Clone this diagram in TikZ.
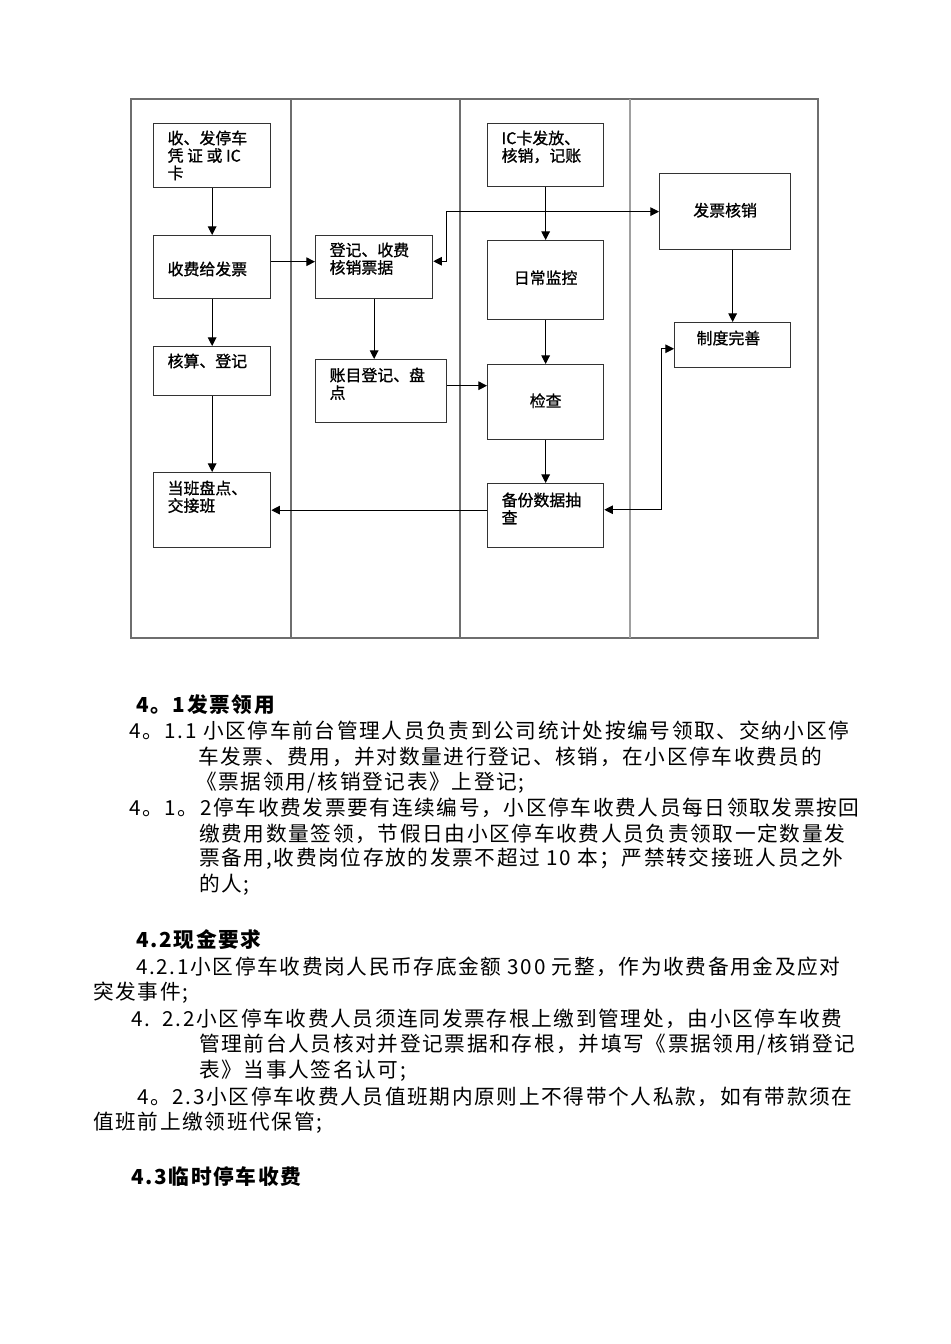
\documentclass[tikz,border=0pt]{standalone}
\usepackage{fontspec}
\usepackage{tikz}
\usetikzlibrary{arrows.meta, positioning, calc}
\setmainfont{Noto Sans CJK SC}
\newfontfamily\bodyfont[LetterSpace=8]{Noto Sans CJK SC}
\newfontfamily\boxfont[FakeBold=1]{Noto Sans CJK SC}
\definecolor{LaneGray}{RGB}{110, 110, 110}
\definecolor{LaneLight}{RGB}{160, 160, 160}
\newlength{\pxu}
\setlength{\pxu}{0.0221cm}
% box text: width, height, top gap, text
\newcommand{\bt}[4]{\parbox[c][#2\pxu][t]{#1\pxu}{\leftskip=14\pxu\relax\vspace*{#3\pxu}#4\par}}
\newcommand{\bc}[3]{\parbox[c][#2\pxu][c]{#1\pxu}{\centering #3\par}}

\begin{document}
\begin{tikzpicture}[
    x=0.0221cm, y=-0.0221cm,
    box/.style={rectangle, draw=black!80, line width=0.8pt, inner sep=0pt, anchor=north west, font=\boxfont\fontsize{10}{11}\selectfont},
    arrow/.style={-{Triangle[length=1.9mm, width=1.9mm]}, line width=0.6pt, draw=black},
    both/.style={{Triangle[length=1.9mm, width=1.9mm]}-{Triangle[length=1.9mm, width=1.9mm]}, line width=0.6pt, draw=black},
    lane/.style={draw=LaneGray, line width=0.7pt},
    para/.style={anchor=west, inner sep=0pt, font=\bodyfont\fontsize{13}{15}\selectfont},
    head/.style={anchor=west, inner sep=0pt, font=\bodyfont\fontsize{13}{15}\selectfont\bfseries}
]
    \useasboundingbox (0,0) rectangle (950,1344);

    % Swim lanes
    \draw[lane] (131,99) rectangle (818,638);
    \foreach \x in {291,460}
        \draw[lane] (\x,99) -- (\x,638);
    \draw[lane, draw=LaneLight, line width=1.1pt] (630,99) -- (630,638);

    % Nodes placement
    \node[box] (b1) at (153,123) {\bt{117}{64}{7}{收、发停车\\凭\ 证\ 或\ IC\\卡}};
    \node[box] (b2) at (153,235) {\bt{117}{63}{26}{收费给发票}};
    \node[box] (b3) at (153,346) {\bt{117}{49}{7}{核算、登记}};
    \node[box] (b4) at (153,472) {\bt{117}{75}{8}{当班盘点、\\交接班}};
    \node[box] (b5) at (315,235) {\bt{117}{63}{7}{登记、收费\\核销票据}};
    \node[box] (b6) at (315,359) {\bt{131}{63}{8}{账目登记、盘\\点}};
    \node[box] (b7) at (487,123) {\bt{116}{63}{7}{IC卡发放、\\核销，记账}};
    \node[box] (b8) at (487,240) {\bc{116}{79}{\raisebox{6\pxu}{日常监控}}};
    \node[box] (b9) at (487,364) {\bc{116}{75}{\raisebox{4\pxu}{检查}}};
    \node[box] (b10) at (487,483) {\bt{116}{64}{9}{备份数据抽\\查}};
    \node[box] (b11) at (659,173) {\bc{131}{76}{\raisebox{4\pxu}{发票核销}}};
    \node[box] (b12) at (674,322) {\bt{116}{45}{8}{\hspace*{8\pxu}制度完善}};

    % Arrows
    \draw[arrow] (b1) -- (b2);
    \draw[arrow] (b2) -- (b3);
    \draw[arrow] (b3) -- (b4);
    \draw[arrow] ([yshift=0.12cm]b2.east) -- ([yshift=0.12cm]b5.west);
    \draw[arrow] (b5.south) -- (b5.south |- b6.north);
    \draw[arrow] ([yshift=0.12cm]b6.east) -- ([yshift=0.12cm]b6.east -| b9.west);
    \draw[arrow] (b7) -- (b8);
    \draw[arrow] (b8) -- (b9);
    \draw[arrow] (b9) -- (b10);
    \draw[arrow] (b10.west |- b4.east) -- (b4.east);
    \draw[arrow] (b11.south -| b12.north) -- (b12.north);
    \draw[both] ([yshift=0.13cm]b5.east) -- ++(13,0) |- (b11.west);
    \draw[both] ([yshift=0.13cm]b10.east) -- ++(57,0) |- ([yshift=-0.08cm]b12.west);

    % Text below the chart
    \node[head] (h1) at (136,705) {4。1发票领用};
    \node[para] (p1) at (129,731) {4。1.1 小区停车前台管理人员负责到公司统计处按编号领取、交纳小区停};
    \node[para] (p2) at (198,757) {车发票、费用，并对数量进行登记、核销，在小区停车收费员的};
    \node[para] (p3) at (196,783) {《票据领用/核销登记表》上登记;};
    \node[para] (p4) at (129,808) {4。1。2停车收费发票要有连续编号，小区停车收费人员每日领取发票按回};
    \node[para] (p5) at (199,834) {缴费用数量签领，节假日由小区停车收费人员负责领取一定数量发};
    \node[para] (p6) at (199,859) {票备用,收费岗位存放的发票不超过 10 本；严禁转交接班人员之外};
    \node[para] (p7) at (199,885) {的人;};
    \node[head] (h2) at (136,940) {4.2现金要求};
    \node[para] (p8) at (136,967) {4.2.1小区停车收费岗人民币存底金额 300 元整，作为收费备用金及应对};
    \node[para] (p9) at (93,993) {突发事件;};
    \node[para] (p10) at (131,1019) {4.\ \ 2.2小区停车收费人员须连同发票存根上缴到管理处，由小区停车收费};
    \node[para] (p11) at (199,1045) {管理前台人员核对并登记票据和存根，并填写《票据领用/核销登记};
    \node[para] (p12) at (199,1071) {表》当事人签名认可;};
    \node[para] (p13) at (137,1097) {4。2.3小区停车收费人员值班期内原则上不得带个人私款，如有带款须在};
    \node[para] (p14) at (93,1123) {值班前上缴领班代保管;};
    \node[head] (h3) at (131,1177) {4.3临时停车收费};
\end{tikzpicture}
\end{document}
